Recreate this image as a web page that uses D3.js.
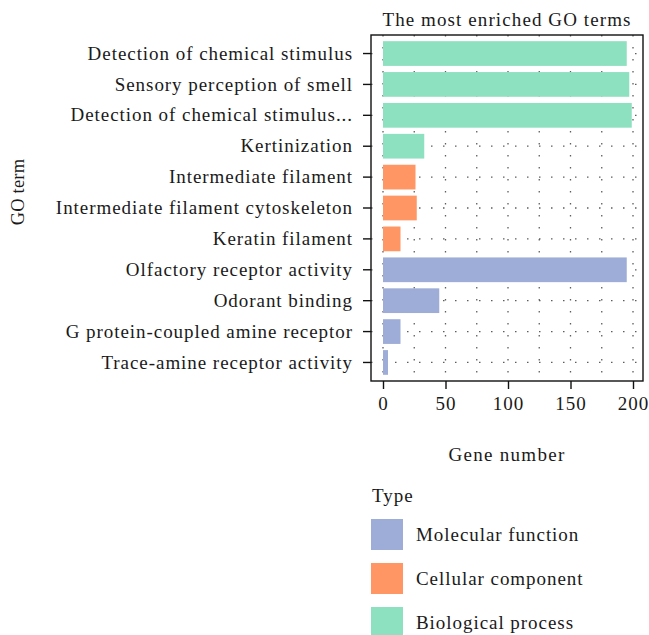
<!DOCTYPE html>
<html>
<head>
<meta charset="utf-8">
<script src="https://cdn.jsdelivr.net/npm/d3@7"></script>
<style>
  html, body { margin: 0; padding: 0; background: #fff; }
  svg { display: block; }
  text { font-family: "Liberation Serif", "Times New Roman", serif; fill: #1a1a1a; letter-spacing: 0.95px; }
</style>
</head>
<body>
<svg id="chart" width="649" height="635"></svg>
<script>
const categories = [
  "Detection of chemical stimulus",
  "Sensory perception of smell",
  "Detection of chemical stimulus...",
  "Kertinization",
  "Intermediate filament",
  "Intermediate filament cytoskeleton",
  "Keratin filament",
  "Olfactory receptor activity",
  "Odorant binding",
  "G protein-coupled amine receptor",
  "Trace-amine receptor activity"
];
const geneNumbers = [195, 197, 199, 33, 26, 27, 14, 195, 45, 14, 4];
const termTypes = [
  "Biological process", "Biological process", "Biological process", "Biological process",
  "Cellular component", "Cellular component", "Cellular component",
  "Molecular function", "Molecular function", "Molecular function", "Molecular function"
];
const legendTypes = ["Molecular function", "Cellular component", "Biological process"];
const typeColors = ["#9eadd8", "#ff9664", "#8de0c0"];
const xTicks = [0, 50, 100, 150, 200];
const xGrid = [0, 25, 50, 75, 100, 125, 150, 175, 200];
const titleText = "The most enriched GO terms";
const xTitle = "Gene number";
const yTitle = "GO term";
const legendTitle = "Type";

const FS = 19;
const svg = d3.select("#chart");
const panel = { left: 371, right: 643, top: 35, bottom: 381 };

const x = d3.scaleLinear().domain([-9.6, 208]).range([panel.left, panel.right]);
const y = d3.scaleBand().domain(categories).range([panel.top, panel.bottom])
  .paddingInner(0.2).paddingOuter(0.2);
const color = d3.scaleOrdinal().domain(legendTypes).range(typeColors);

// grid
const grid = svg.append("g");
grid.selectAll("line.v").data(xGrid).join("line")
  .attr("x1", d => x(d)).attr("x2", d => x(d))
  .attr("y1", panel.top).attr("y2", panel.bottom)
  .attr("stroke", "#5e5e5e").attr("stroke-width", 1.3)
  .attr("stroke-dasharray", "1.5 10.5");
grid.selectAll("line.h").data(categories).join("line")
  .attr("x1", panel.left).attr("x2", panel.right)
  .attr("y1", d => y(d) + y.bandwidth() / 2).attr("y2", d => y(d) + y.bandwidth() / 2)
  .attr("stroke", "#5e5e5e").attr("stroke-width", 1.3)
  .attr("stroke-dasharray", "1.5 10.5");

// bars
svg.append("g").selectAll("rect").data(categories).join("rect")
  .attr("x", x(0))
  .attr("y", d => y(d))
  .attr("width", (d, i) => x(geneNumbers[i]) - x(0))
  .attr("height", y.bandwidth())
  .attr("fill", (d, i) => color(termTypes[i]));

// panel border
svg.append("rect")
  .attr("x", panel.left).attr("y", panel.top)
  .attr("width", panel.right - panel.left).attr("height", panel.bottom - panel.top)
  .attr("fill", "none").attr("stroke", "#111").attr("stroke-width", 1.4);

// axes
const xAxis = svg.append("g").attr("transform", `translate(0,${panel.bottom})`)
  .call(d3.axisBottom(x).tickValues(xTicks).tickSize(8).tickPadding(8).tickFormat(d3.format("d")));
xAxis.select(".domain").remove();
xAxis.selectAll("line").attr("stroke", "#111").attr("stroke-width", 1.4);
xAxis.selectAll("text").attr("font-size", FS).attr("fill", "#1a1a1a")
  .style("font-family", "Liberation Serif, serif");

const yAxis = svg.append("g").attr("transform", `translate(${panel.left},0)`)
  .call(d3.axisLeft(y).tickSize(8).tickPadding(10));
yAxis.select(".domain").remove();
yAxis.selectAll("line").attr("stroke", "#111").attr("stroke-width", 1.4);
yAxis.selectAll("text").attr("font-size", FS).attr("fill", "#1a1a1a")
  .style("font-family", "Liberation Serif, serif");

// titles
svg.append("text").attr("x", (panel.left + panel.right) / 2).attr("y", 26)
  .attr("text-anchor", "middle").attr("font-size", FS).style("letter-spacing", "1.1px").text(titleText);
svg.append("text").attr("x", (panel.left + panel.right) / 2).attr("y", 461)
  .attr("text-anchor", "middle").attr("font-size", FS).style("letter-spacing", "1.3px").text(xTitle);
svg.append("text").attr("transform", "translate(24,192) rotate(-90)")
  .attr("text-anchor", "middle").attr("font-size", 18.5).style("letter-spacing", "0.2px").text(yTitle);

// legend
const legend = svg.append("g");
legend.append("text").attr("x", 372).attr("y", 502).attr("font-size", FS).text(legendTitle);
const items = legend.selectAll("g.item").data(legendTypes).join("g")
  .attr("transform", (d, i) => `translate(371,${519 + i * 44})`);
items.append("rect").attr("width", 32).attr("height", 31).attr("fill", d => color(d));
items.append("text").attr("x", 45).attr("y", 15.5).attr("dy", "0.35em")
  .attr("font-size", FS).text(d => d);
</script>
</body>
</html>
